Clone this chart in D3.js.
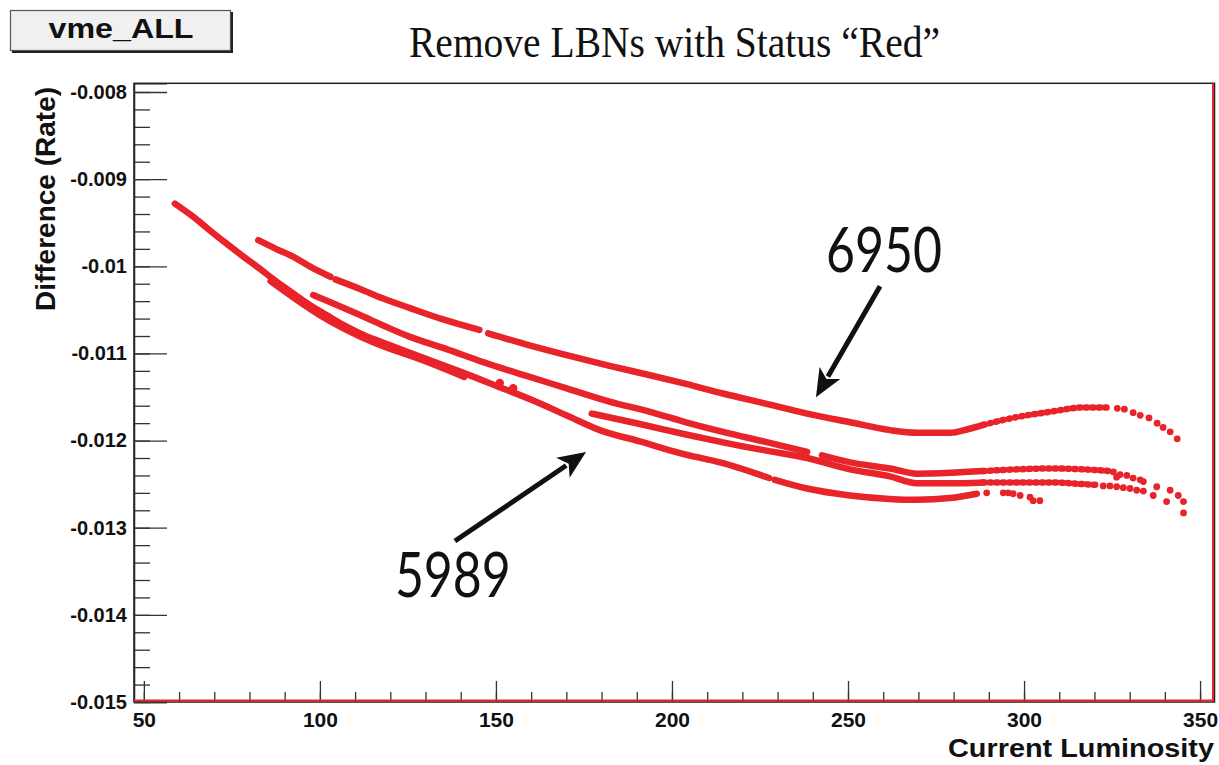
<!DOCTYPE html>
<html>
<head>
<meta charset="utf-8">
<script src="https://cdn.jsdelivr.net/npm/d3@7"></script>
<style>
  body { margin: 0; background: #fff; }
  .tick text { font-family: "Liberation Sans", Arial, sans-serif; font-weight: bold; fill: #111; }
</style>
</head>
<body>
<svg id="chart" width="1219" height="765"></svg>
<script>
// ---- data ----
const lumTicks = [50, 100, 150, 200, 250, 300, 350];
const diffTicks = [-0.008, -0.009, -0.010, -0.011, -0.012, -0.013, -0.014, -0.015];
const diffTickLabels = ["-0.008", "-0.009", "-0.01", "-0.011", "-0.012", "-0.013", "-0.014", "-0.015"];

// [luminosity, difference]; null marks a gap in the run
const run6950 = [
    [82.5, -0.00970], [87.5, -0.00980], [92.4, -0.00989], [97.5, -0.01001], [103.0, -0.01012], null,
    [104.4, -0.01015], [111.4, -0.01026], [118, -0.01037], [125.6, -0.01048], [135, -0.01061], [145.3, -0.01073], null,
    [147.8, -0.01077], [158, -0.01089], [170.1, -0.01102], [182, -0.01114], [193.8, -0.01125], [204, -0.01135],
    [214.5, -0.01146], [226, -0.01157], [238.4, -0.01169], [250.6, -0.01179], [261.9, -0.01188], [269.6, -0.01191],
    [279, -0.01191], [284, -0.01187], [288.4, -0.01182], [298, -0.01173], [307.4, -0.01167], [316.8, -0.01162], [323.6, -0.01162]
];
const tail6950 = [
    [326.5, -0.01163], [328.5, -0.01164], [331, -0.01168], [333, -0.01171], [335.5, -0.01174],
    [337.8, -0.01180], [339.5, -0.01185], [341.5, -0.01190], [343.5, -0.01198]
];

const runMidUpper = [
    [98.1, -0.01033], [104, -0.01043], [111.4, -0.01056], [118, -0.01068], [125.6, -0.01081], [136, -0.01095],
    [146.4, -0.01110], [158, -0.01125], [170.1, -0.01140], [182, -0.01155], [193.8, -0.01167], [204, -0.01179],
    [214.5, -0.01190], [226, -0.01201], [238.4, -0.01213], null,
    [242.6, -0.01217], [250.6, -0.01225], [261.9, -0.01232], [269.6, -0.01238], [279, -0.01237], [288.4, -0.01235],
    [298, -0.01233], [307.4, -0.01232], [316.8, -0.01233], [324.4, -0.01235]
];
const tailMidUpper = [
    [325.4, -0.01236], [326.3, -0.01242], [327.3, -0.01239], [329.2, -0.01240], [331.0, -0.01243],
    [333.0, -0.01245], [333.9, -0.01247], [337.7, -0.01253], [341.5, -0.01257], [343.8, -0.01263]
];

const runMidLower = [
    [177.2, -0.01169], [190.9, -0.01181], [204, -0.01193], [214.5, -0.01202], [226, -0.01211], [238.4, -0.01220],
    [250.6, -0.01233], [261.9, -0.01241], [269.6, -0.01249], [279, -0.01249], [288.4, -0.01248], [298, -0.01248],
    [307.4, -0.01248], [316.8, -0.01250], [321, -0.01251]
];
const tailMidLower = [
    [322.5, -0.01252], [324.4, -0.01252], [326.3, -0.01253], [328.2, -0.01254], [330.1, -0.01255], [332.0, -0.01257],
    [333.9, -0.01258], [336.7, -0.01263], [340.5, -0.01270], [345.3, -0.01270], [345.3, -0.01283]
];

const run5989 = [
    [58.8, -0.00928], [64, -0.00943], [68.5, -0.00958], [73.5, -0.00974], [78, -0.00988], [83, -0.01003],
    [87.5, -0.01017], [92.4, -0.01031], [97, -0.01044], [101.9, -0.01056], [106.5, -0.01067], [111.4, -0.01077],
    [117.5, -0.01087], [124, -0.01097], [132, -0.01109], [140.6, -0.01122], [150, -0.01137], [160.6, -0.01154],
    [170, -0.01171], [179.5, -0.01188], [190.9, -0.01201], [202, -0.01214], [214.5, -0.01226], [227.6, -0.01243], null,
    [229.2, -0.01245], [238.4, -0.01255], [250.6, -0.01263], [261.9, -0.01267], [269.6, -0.01268], [279, -0.01266], [286.6, -0.01261]
];
const tail5989 = [
    [289.4, -0.01260], [294.1, -0.01260], [295.5, -0.01260], [296.9, -0.01261], [298.9, -0.01263],
    [301.7, -0.01265], [302.6, -0.01269], [304.5, -0.01269]
];

// short run lying just under the 5989 curve
const runOverlap = [[86, -0.01017], [100, -0.01056], [115, -0.01087], [130, -0.01109], [141, -0.01127]];
const strayPoints = [[151.1, -0.01134], [154.9, -0.01140]];

// annotations: label position, arrow tail, arrow tip
const notes = [
    { text: "6950", at: [243.75, -0.010068], from: [259.1, -0.010228], to: [240.9, -0.011502] },
    { text: "5989", at: [121.3, -0.013795], from: [138.35, -0.013153], to: [175.6, -0.012132] }
];

// luminosity above which the markers no longer merge into a solid band
const sparseFrom = 286;

// ---- drawing ----
const red = "#e8232a";
const svg = d3.select("#chart");

const x = d3.scaleLinear().domain([47.2, 354.1]).range([134, 1214.5]);
const y = d3.scaleLinear().domain([-0.015, -0.0079]).range([702, 83.3]);

// frame
svg.append("rect")
    .attr("x", 134).attr("y", 83.3)
    .attr("width", 1080.5).attr("height", 618.7)
    .attr("fill", "none").attr("stroke", "#222").attr("stroke-width", 1.5);

// minor ticks
svg.append("g")
    .attr("transform", "translate(134,0)")
    .call(d3.axisLeft(y).tickValues(d3.range(0, 36).map(i => -0.015 + i * 0.0002)).tickSize(-16).tickFormat(""))
    .call(g => g.select(".domain").remove())
    .call(g => g.selectAll("line").attr("stroke", "#333").attr("stroke-width", 1.3));

svg.append("g")
    .attr("transform", "translate(0,702)")
    .call(d3.axisBottom(x).tickValues(d3.range(50, 351, 10)).tickSize(-10).tickFormat(""))
    .call(g => g.select(".domain").remove())
    .call(g => g.selectAll("line").attr("stroke", "#333").attr("stroke-width", 1.3));

// major ticks + labels
svg.append("g")
    .attr("transform", "translate(134,0)")
    .call(d3.axisLeft(y).tickValues(diffTicks).tickFormat((d, i) => diffTickLabels[i]).tickSize(-33).tickPadding(7))
    .call(g => g.select(".domain").attr("stroke", "#222").attr("stroke-width", 1.5))
    .call(g => g.selectAll("line").attr("stroke", "#333").attr("stroke-width", 1.3))
    .call(g => g.selectAll("text").style("font-size", "20px"));

svg.append("g")
    .attr("transform", "translate(0,702)")
    .call(d3.axisBottom(x).tickValues(lumTicks).tickFormat(d3.format("d")).tickSize(-21).tickPadding(10))
    .call(g => g.select(".domain").remove())
    .call(g => g.selectAll("line").attr("stroke", "#333").attr("stroke-width", 1.3))
    .call(g => g.selectAll("text").style("font-size", "21px"));

// red edge on bottom and right of the frame
svg.append("path")
    .attr("d", `M134,${y(-0.015) - 1.5}H${x(354.1) - 1.5}V83.3`)
    .attr("fill", "none").attr("stroke", red).attr("stroke-width", 2);

// curves: solid band where markers overlap, dotted chain where they thin out
const solidLine = d3.line()
    .defined(d => d && d[0] <= sparseFrom + 3)
    .x(d => x(d[0]))
    .y(d => y(d[1]))
    .curve(d3.curveMonotoneX);
const dottedLine = d3.line()
    .defined(d => d && d[0] >= sparseFrom)
    .x(d => x(d[0]))
    .y(d => y(d[1]))
    .curve(d3.curveMonotoneX);

const plot = svg.append("g");
[run6950, runMidUpper, runMidLower, run5989, runOverlap].forEach(run => {
    plot.append("path")
        .attr("d", solidLine(run))
        .attr("fill", "none")
        .attr("stroke", red)
        .attr("stroke-width", 6.5)
        .attr("stroke-linecap", "round")
        .attr("stroke-linejoin", "round");
    plot.append("path")
        .attr("d", dottedLine(run))
        .attr("fill", "none")
        .attr("stroke", red)
        .attr("stroke-width", 6.5)
        .attr("stroke-dasharray", "1.5 5")
        .attr("stroke-linecap", "round");
});

[tail6950, tailMidUpper, tailMidLower, tail5989].forEach(pts => {
    plot.selectAll(null).data(pts).enter().append("circle")
        .attr("cx", d => x(d[0])).attr("cy", d => y(d[1]))
        .attr("r", 3.4).attr("fill", red);
});
plot.selectAll(null).data(strayPoints).enter().append("circle")
    .attr("cx", d => x(d[0])).attr("cy", d => y(d[1]))
    .attr("r", 4.2).attr("fill", red);

// annotations
notes.forEach(n => {
    const x0 = x(n.from[0]), y0 = y(n.from[1]);
    const x1 = x(n.to[0]), y1 = y(n.to[1]);
    const len = Math.hypot(x1 - x0, y1 - y0);
    const ux = (x1 - x0) / len, uy = (y1 - y0) / len;
    const headL = 28, headW = 12;
    const bx = x1 - ux * headL, by = y1 - uy * headL;
    svg.append("line")
        .attr("x1", x0).attr("y1", y0).attr("x2", bx + ux * 4).attr("y2", by + uy * 4)
        .attr("stroke", "#111").attr("stroke-width", 5);
    svg.append("polygon")
        .attr("points", [[x1, y1], [bx - uy * headW, by + ux * headW], [bx + ux * 7, by + uy * 7], [bx + uy * headW, by - ux * headW]].join(" "))
        .attr("fill", "#111");
    svg.append("text")
        .attr("x", x(n.at[0])).attr("y", y(n.at[1]))
        .attr("font-family", "Lato, 'Open Sans', sans-serif")
        .attr("font-size", 61)
        .attr("textLength", 116).attr("lengthAdjust", "spacingAndGlyphs")
        .attr("fill", "#111")
        .text(n.text);
});

// titles
svg.append("text")
    .attr("x", 409).attr("y", 57)
    .attr("font-family", "'Liberation Serif', 'DejaVu Serif', serif")
    .attr("font-size", 45)
    .attr("textLength", 531).attr("lengthAdjust", "spacingAndGlyphs")
    .attr("fill", "#111")
    .text("Remove LBNs with Status \u201CRed\u201D");

svg.append("text")
    .attr("x", 1214).attr("y", 757)
    .attr("text-anchor", "end")
    .attr("font-family", "'Liberation Sans', Arial, sans-serif")
    .attr("font-weight", "bold").attr("font-size", 25)
    .attr("textLength", 266).attr("lengthAdjust", "spacingAndGlyphs")
    .attr("fill", "#111")
    .text("Current Luminosity");

svg.append("text")
    .attr("transform", "translate(55,199) rotate(-90)")
    .attr("text-anchor", "middle")
    .attr("font-family", "'Liberation Sans', Arial, sans-serif")
    .attr("font-weight", "bold").attr("font-size", 28)
    .attr("fill", "#111")
    .text("Difference (Rate)");

// histogram name box
const box = svg.append("g");
box.append("rect")
    .attr("x", 10.5).attr("y", 10.5).attr("width", 220).attr("height", 40)
    .attr("fill", "#f0f0f0").attr("stroke", "#555").attr("stroke-width", 1.2);
box.append("path")
    .attr("d", "M12,52H232V12")
    .attr("fill", "none").attr("stroke", "#222").attr("stroke-width", 2);
box.append("text")
    .attr("x", 121).attr("y", 38)
    .attr("text-anchor", "middle")
    .attr("font-family", "'Liberation Sans', Arial, sans-serif")
    .attr("font-weight", "bold").attr("font-size", 28)
    .attr("textLength", 145).attr("lengthAdjust", "spacingAndGlyphs")
    .attr("fill", "#111")
    .text("vme_ALL");
</script>
</body>
</html>
